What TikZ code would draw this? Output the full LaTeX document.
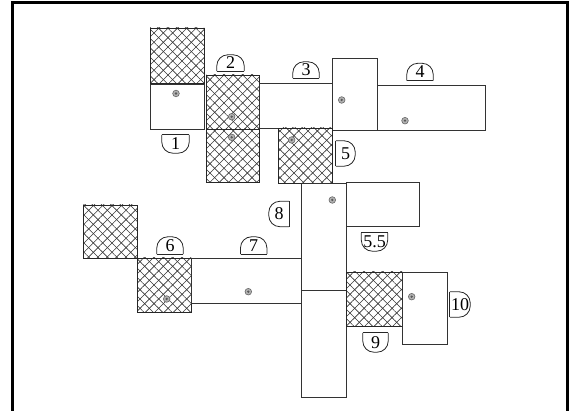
\documentclass[tikz,border=0pt]{standalone}
\usepackage{fontspec}
\setmainfont{Liberation Serif}
\usetikzlibrary{patterns.meta}

\tikzset{
  cell/.style={draw=black!80, line width=0.7pt, fill=white},
  hatch/.style={draw=black!85, line width=0.8pt,
    pattern={Lines[angle=45, distance=6.6pt, line width=0.6pt]}, pattern color=black!80,
    preaction={pattern={Lines[angle=-45, distance=6.6pt, line width=0.6pt]}, pattern color=black!80}},
  tag/.style={inner sep=0pt, font=\fontsize{18}{18}\selectfont},
  rim/.style={black!85, line width=0.8pt},
  pin/.style={draw=black!60, line width=0.6pt, fill=black!30}
}

\begin{document}
\begin{tikzpicture}[x=1pt, y=-1pt]

\useasboundingbox (0,0) rectangle (571,411);

% ── Frame (open at the bottom) ──
\draw[line width=3pt] (12.5,411) -- (12.5,2.5) -- (567.5,2.5) -- (567.5,411);

% ── Upper row ──
\draw[hatch] (150,28) rectangle (204,83);
\draw[cell]  (150,84) rectangle (204,129);
\draw[hatch] (206,75) rectangle (259,129);
\draw[hatch] (206,129) rectangle (259,182);
\draw[cell]  (259,83) rectangle (332,128);
\draw[cell]  (332,58) rectangle (377,130);
\draw[cell]  (377,85) rectangle (485,130);
\draw[hatch] (278,128) rectangle (332,183);

% ── Middle column ──
\draw[cell]  (301,183) rectangle (346,290);
\draw[cell]  (346,182) rectangle (419,226);
\draw[cell]  (301,290) rectangle (346,397);

% ── Lower left row ──
\draw[hatch] (83,205) rectangle (137,258);
\draw[hatch] (137,258) rectangle (191,312);
\draw[cell]  (191,258) rectangle (301,303);

% ── Lower right ──
\draw[hatch] (346,272) rectangle (402,326);
\draw[cell]  (402,272) rectangle (447,344);

% ── Pins ──
\foreach \x/\y in {176/93.5, 231.7/116.7, 231.7/137.3, 291.7/140, 341.7/100,
                   405/120.7, 332.3/200, 166.7/299, 248.3/291.7, 411.7/296.7} {
  \draw[pin] (\x,\y) circle (3.3pt);
  \fill[black!65] (\x,\y) circle (1.3pt);
}

% ── Labels ──
\node[tag, minimum width=27pt, minimum height=18pt] (t1)  at (175.5,144) {1};
\node[tag, minimum width=27pt, minimum height=16pt] (t2)  at (230.5,63)  {2};
\node[tag, minimum width=26pt, minimum height=16pt] (t3)  at (306,70)    {3};
\node[tag, minimum width=26pt, minimum height=17pt] (t4)  at (420,72)    {4};
\node[tag, minimum width=19pt, minimum height=25pt] (t5)  at (345.5,153.5) {5};
\node[tag, minimum width=26pt, minimum height=18pt] (t55) at (374.5,242)  {5.5};
\node[tag, minimum width=26pt, minimum height=17pt] (t6)  at (170,245.5)  {6};
\node[tag, minimum width=26pt, minimum height=17pt] (t7)  at (253.7,245.5) {7};
\node[tag, minimum width=20pt, minimum height=25pt] (t8)  at (279,214)    {8};
\node[tag, minimum width=25pt, minimum height=19pt] (t9)  at (375.5,342.5) {9};
\node[tag, minimum width=20pt, minimum height=25pt] (t10) at (460,304.5)  {10};

% label outlines: flat side toward the box
\foreach \n in {t2,t3,t4,t6,t7} {
  \draw[rim, rounded corners=11pt]
    (\n.south west) -- (\n.north west) -- (\n.north east) -- (\n.south east);
  \draw[rim] (\n.south west) -- (\n.south east);
}
\foreach \n in {t1,t55,t9} {
  \draw[rim, rounded corners=11pt]
    (\n.north west) -- (\n.south west) -- (\n.south east) -- (\n.north east);
  \draw[rim] (\n.north west) -- (\n.north east);
}
\foreach \n in {t5,t10} {
  \draw[rim, rounded corners=11pt]
    (\n.north west) -- (\n.north east) -- (\n.south east) -- (\n.south west);
  \draw[rim] (\n.north west) -- (\n.south west);
}
\foreach \n in {t8} {
  \draw[rim, rounded corners=11pt]
    (\n.north east) -- (\n.north west) -- (\n.south west) -- (\n.south east);
  \draw[rim] (\n.north east) -- (\n.south east);
}

\end{tikzpicture}
\end{document}
